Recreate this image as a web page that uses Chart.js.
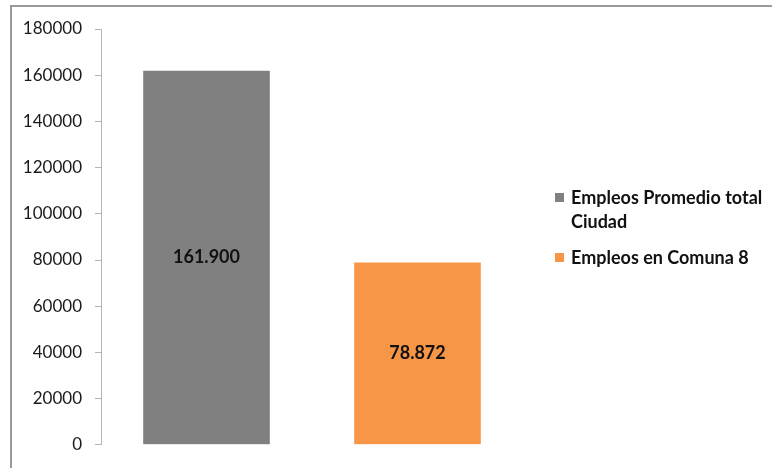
<!DOCTYPE html>
<html>
<head>
<meta charset="utf-8">
<script src="https://cdn.jsdelivr.net/npm/chart.js@4.4.1/dist/chart.umd.min.js"></script>
<style>
  html, body { margin: 0; padding: 0; background: #fff; }
  #wrap { width: 772px; height: 468px; position: relative; }
</style>
</head>
<body>
<div id="wrap"><canvas id="c" width="772" height="468"></canvas></div>
<script>
// Empleo: promedio total de la ciudad frente a la Comuna 8
const categories = ['Empleos Promedio total Ciudad', 'Empleos en Comuna 8'];
const empleos = [161900, 78872];
const barColors = ['#808080', '#F79646'];
const yTicks = [0, 20000, 40000, 60000, 80000, 100000, 120000, 140000, 160000, 180000];

// 161900 -> "161.900"
function fmtMiles(v) {
  return String(Math.round(v)).replace(/\B(?=(\d{3})+(?!\d))/g, '.');
}

// Marco gris superior e izquierdo del gráfico
const marco = {
  id: 'marco',
  beforeDraw(chart) {
    const ctx = chart.ctx;
    ctx.save();
    ctx.strokeStyle = '#9a9a9a';
    ctx.lineWidth = 2;
    ctx.beginPath();
    ctx.moveTo(11, chart.height);
    ctx.lineTo(11, 6);
    ctx.lineTo(chart.width, 6);
    ctx.stroke();
    ctx.restore();
  }
};

// Valor de cada barra, centrado dentro de ella
const etiquetas = {
  id: 'etiquetas',
  afterDatasetsDraw(chart) {
    const ctx = chart.ctx;
    const meta = chart.getDatasetMeta(0);
    ctx.save();
    ctx.font = 'bold 18px Lato, "Open Sans", sans-serif';
    ctx.fillStyle = '#111';
    ctx.textAlign = 'center';
    ctx.textBaseline = 'middle';
    meta.data.forEach((bar, i) => {
      const v = chart.data.datasets[0].data[i];
      ctx.fillText(fmtMiles(v), bar.x, (bar.y + bar.base) / 2);
    });
    ctx.restore();
  }
};

// Leyenda a la derecha con ajuste de línea
const leyenda = {
  id: 'leyenda',
  afterDraw(chart) {
    const ctx = chart.ctx;
    const area = chart.chartArea;
    const boxX = area.right + 32;
    const textX = boxX + 16;
    const maxW = chart.width - textX - 4;
    const lineH = 24;
    let y = 198;
    ctx.save();
    ctx.font = 'bold 18px Lato, "Open Sans", sans-serif';
    ctx.textBaseline = 'middle';
    ctx.textAlign = 'left';
    chart.data.labels.forEach((label, i) => {
      const words = label.split(' ');
      const lines = [];
      let cur = '';
      words.forEach(w => {
        const t = cur ? cur + ' ' + w : w;
        if (ctx.measureText(t).width > maxW && cur) { lines.push(cur); cur = w; }
        else cur = t;
      });
      if (cur) lines.push(cur);
      ctx.fillStyle = chart.data.datasets[0].backgroundColor[i];
      ctx.fillRect(boxX, y - 5, 9, 9);
      ctx.fillStyle = '#111';
      lines.forEach((ln, k) => ctx.fillText(ln, textX, y + k * lineH));
      y += lines.length * lineH + 12;
    });
    ctx.restore();
  }
};

new Chart(document.getElementById('c'), {
  type: 'bar',
  data: {
    labels: categories,
    datasets: [{
      data: empleos,
      backgroundColor: barColors,
      borderWidth: 0,
      barPercentage: 0.6,
      categoryPercentage: 1.0
    }]
  },
  options: {
    responsive: false,
    animation: false,
    devicePixelRatio: 1,
    layout: { padding: { top: 29, right: 249, bottom: 15, left: 0 } },
    plugins: {
      legend: { display: false },
      tooltip: { enabled: false }
    },
    scales: {
      x: { display: false },
      y: {
        min: 0,
        max: 180000,
        afterFit(scale) { scale.width = 101; },
        afterBuildTicks(scale) { scale.ticks = yTicks.map(v => ({ value: v })); },
        ticks: {
          padding: 13,
          color: '#1a1a1a',
          font: { family: 'Lato, "Open Sans", sans-serif', size: 17 },
          callback: v => String(v)
        },
        grid: {
          drawOnChartArea: false,
          drawTicks: true,
          tickLength: 6,
          color: '#b5b5b5',
          lineWidth: 1
        },
        border: { display: true, color: '#b5b5b5', width: 1 }
      }
    }
  },
  plugins: [marco, etiquetas, leyenda]
});
</script>
</body>
</html>
